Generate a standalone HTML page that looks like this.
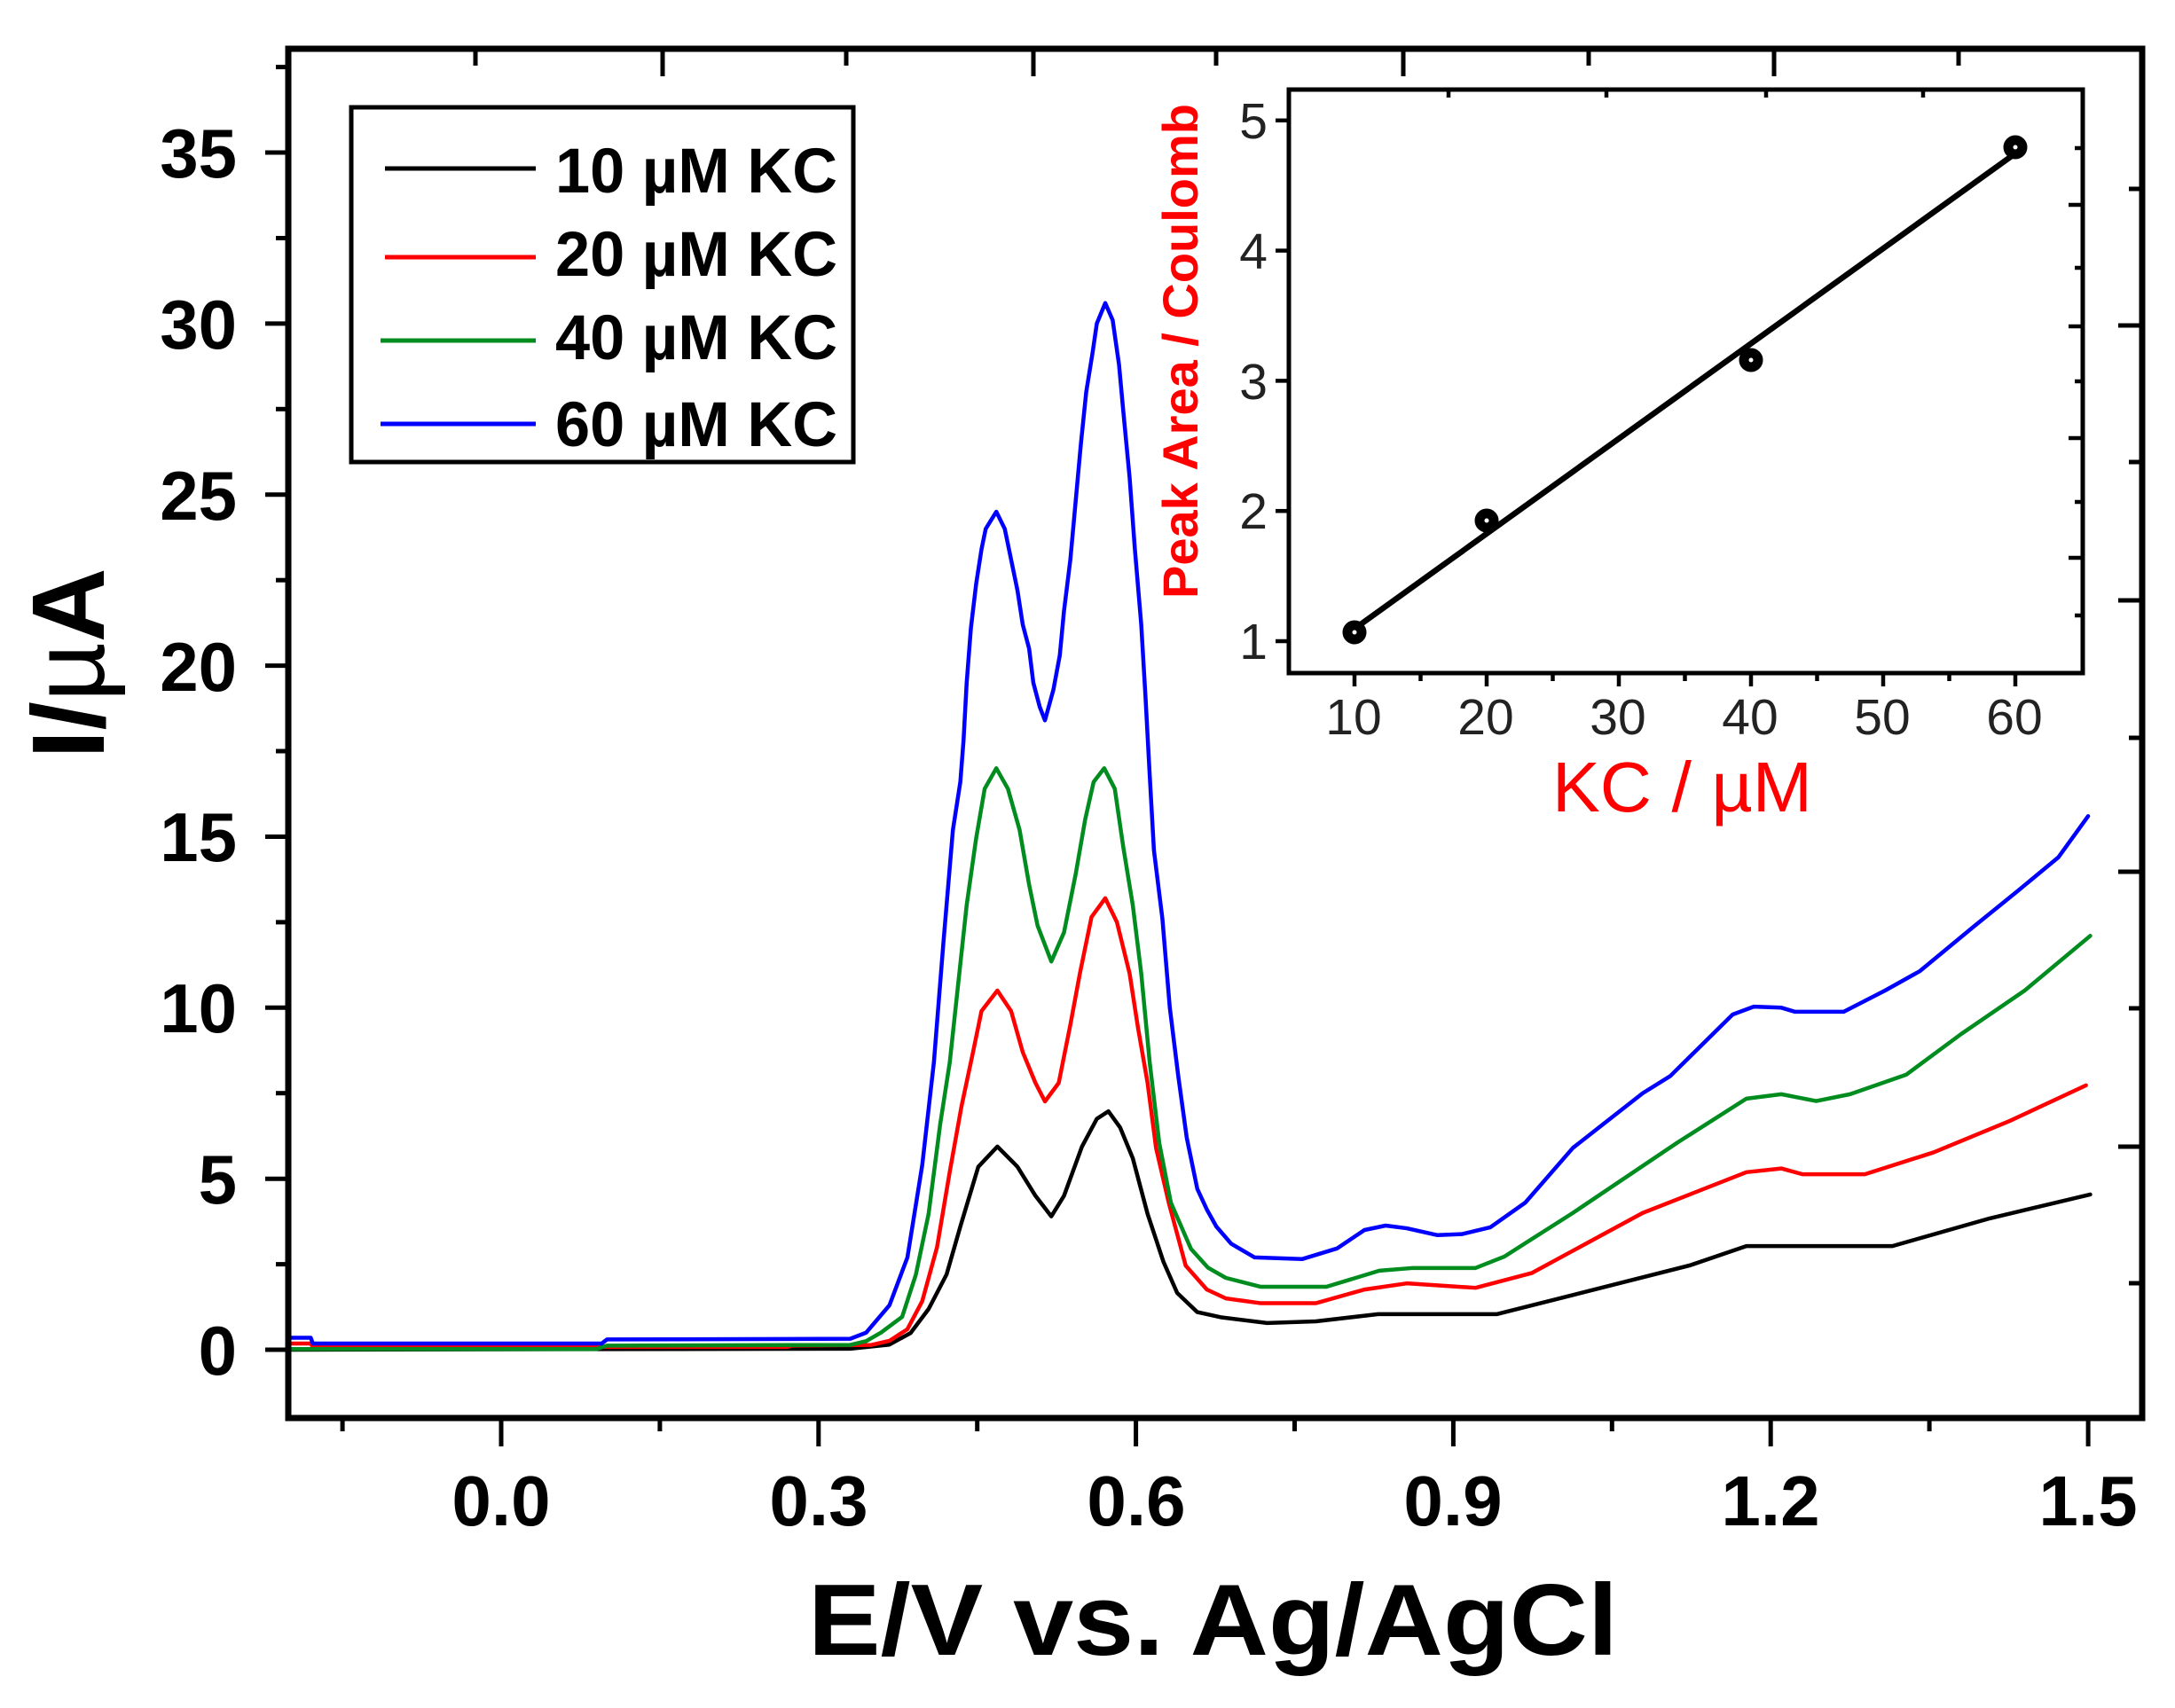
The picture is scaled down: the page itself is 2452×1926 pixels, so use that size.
<!DOCTYPE html>
<html>
<head>
<meta charset="utf-8">
<style>
html,body{margin:0;padding:0;background:#fff;}
svg{display:block;}
text{font-family:"Liberation Sans",Arial,sans-serif;}
</style>
</head>
<body>
<svg width="2452" height="1926" viewBox="0 0 2452 1926" xmlns="http://www.w3.org/2000/svg">
<rect x="0" y="0" width="2452" height="1926" fill="#fff"/>

<!-- curves in data coordinates -->
<g transform="matrix(1192.7,0,0,-38.57,565,1522)" fill="none" stroke-linejoin="round" stroke-linecap="round">
<polyline vector-effect="non-scaling-stroke" stroke="#000" stroke-width="4.5" points="-0.2,0.0 0.33,0.03 0.367,0.15 0.387,0.49 0.404,1.19 0.421,2.2 0.434,3.6 0.451,5.35 0.469,5.94 0.488,5.35 0.505,4.5 0.52,3.9 0.532,4.5 0.549,5.94 0.563,6.75 0.574,6.97 0.585,6.5 0.597,5.6 0.611,3.97 0.626,2.57 0.639,1.66 0.658,1.1 0.68,0.95 0.724,0.78 0.77,0.83 0.829,1.04 0.941,1.04 1.013,1.6 1.124,2.47 1.177,3.03 1.315,3.03 1.407,3.84 1.502,4.54"/>
<polyline vector-effect="non-scaling-stroke" stroke="#ff0000" stroke-width="4.5" points="-0.2,0.18 -0.18,0.18 -0.178,0.08 0.27,0.08 0.275,0.12 0.35,0.14 0.367,0.26 0.384,0.6 0.398,1.42 0.412,3.0 0.424,5.2 0.435,7.1 0.446,8.7 0.454,9.9 0.469,10.5 0.482,9.9 0.493,8.7 0.505,7.8 0.514,7.26 0.527,7.8 0.538,9.5 0.547,11.0 0.558,12.65 0.571,13.2 0.582,12.5 0.594,11.0 0.602,9.4 0.611,7.8 0.619,5.9 0.631,4.3 0.647,2.46 0.667,1.76 0.685,1.5 0.718,1.36 0.77,1.36 0.816,1.76 0.856,1.94 0.921,1.81 0.974,2.24 1.079,4.0 1.177,5.19 1.21,5.3 1.23,5.13 1.289,5.13 1.354,5.77 1.426,6.69 1.498,7.73"/>
<polyline vector-effect="non-scaling-stroke" stroke="#008c1e" stroke-width="4.5" points="-0.2,0.02 0.09,0.02 0.1,0.12 0.33,0.14 0.345,0.25 0.359,0.5 0.379,0.96 0.392,2.2 0.404,3.97 0.415,6.6 0.424,8.4 0.432,10.7 0.44,13.0 0.449,14.96 0.457,16.4 0.468,17.0 0.479,16.4 0.49,15.2 0.499,13.6 0.507,12.4 0.52,11.35 0.532,12.2 0.543,13.9 0.552,15.5 0.56,16.6 0.57,17.0 0.58,16.4 0.588,14.7 0.597,13.0 0.605,11.0 0.613,8.4 0.622,6.05 0.633,4.3 0.652,2.95 0.668,2.4 0.685,2.1 0.718,1.84 0.78,1.84 0.83,2.31 0.862,2.39 0.921,2.39 0.948,2.72 1.013,4.0 1.112,6.06 1.177,7.34 1.21,7.47 1.243,7.27 1.275,7.47 1.328,8.04 1.38,9.23 1.44,10.5 1.502,12.1"/>
<polyline vector-effect="non-scaling-stroke" stroke="#0000ff" stroke-width="4.5" points="-0.2,0.35 -0.18,0.35 -0.178,0.18 0.095,0.18 0.1,0.3 0.33,0.32 0.345,0.5 0.367,1.3 0.384,2.7 0.398,5.4 0.409,8.4 0.418,11.9 0.427,15.2 0.434,16.6 0.437,17.8 0.44,19.5 0.444,21.1 0.449,22.4 0.454,23.4 0.458,24.0 0.468,24.5 0.476,24.0 0.482,23.1 0.488,22.2 0.493,21.2 0.499,20.5 0.503,19.5 0.509,18.8 0.514,18.4 0.522,19.3 0.528,20.3 0.532,21.6 0.538,23.1 0.543,24.8 0.548,26.5 0.553,28.0 0.559,29.15 0.563,30.0 0.571,30.6 0.578,30.1 0.584,28.8 0.588,27.45 0.594,25.5 0.599,23.4 0.605,21.2 0.609,19.1 0.613,16.8 0.617,14.6 0.625,12.6 0.632,10.0 0.64,8.0 0.648,6.2 0.658,4.7 0.667,4.1 0.676,3.6 0.69,3.1 0.712,2.7 0.757,2.65 0.79,2.96 0.816,3.5 0.836,3.63 0.856,3.55 0.885,3.35 0.908,3.38 0.935,3.58 0.968,4.3 1.013,5.9 1.079,7.5 1.105,8.0 1.164,9.8 1.184,10.03 1.21,10.0 1.223,9.88 1.269,9.88 1.308,10.5 1.341,11.07 1.393,12.4 1.433,13.4 1.472,14.4 1.5,15.6"/>
</g>

<!-- main frame -->
<rect x="325" y="55" width="2090" height="1544" fill="none" stroke="#000" stroke-width="7"/>

<!-- left ticks -->
<g stroke="#000" stroke-width="5">
<line x1="299" y1="1522" x2="325" y2="1522"/>
<line x1="299" y1="1329.2" x2="325" y2="1329.2"/>
<line x1="299" y1="1136.3" x2="325" y2="1136.3"/>
<line x1="299" y1="943.5" x2="325" y2="943.5"/>
<line x1="299" y1="750.6" x2="325" y2="750.6"/>
<line x1="299" y1="557.8" x2="325" y2="557.8"/>
<line x1="299" y1="364.9" x2="325" y2="364.9"/>
<line x1="299" y1="172" x2="325" y2="172"/>
<line x1="311" y1="1425.6" x2="325" y2="1425.6"/>
<line x1="311" y1="1232.7" x2="325" y2="1232.7"/>
<line x1="311" y1="1039.9" x2="325" y2="1039.9"/>
<line x1="311" y1="847" x2="325" y2="847"/>
<line x1="311" y1="654.2" x2="325" y2="654.2"/>
<line x1="311" y1="461.3" x2="325" y2="461.3"/>
<line x1="311" y1="268.5" x2="325" y2="268.5"/>
<line x1="311" y1="75.6" x2="325" y2="75.6"/>
<!-- bottom ticks -->
<line x1="565" y1="1599" x2="565" y2="1631"/>
<line x1="922.8" y1="1599" x2="922.8" y2="1631"/>
<line x1="1280.6" y1="1599" x2="1280.6" y2="1631"/>
<line x1="1638.4" y1="1599" x2="1638.4" y2="1631"/>
<line x1="1996.2" y1="1599" x2="1996.2" y2="1631"/>
<line x1="2354.1" y1="1599" x2="2354.1" y2="1631"/>
<line x1="386.1" y1="1599" x2="386.1" y2="1614"/>
<line x1="743.9" y1="1599" x2="743.9" y2="1614"/>
<line x1="1101.7" y1="1599" x2="1101.7" y2="1614"/>
<line x1="1459.5" y1="1599" x2="1459.5" y2="1614"/>
<line x1="1817.3" y1="1599" x2="1817.3" y2="1614"/>
<line x1="2175.1" y1="1599" x2="2175.1" y2="1614"/>
<!-- top ticks (inward) -->
<line x1="536" y1="55" x2="536" y2="74"/>
<line x1="747" y1="55" x2="747" y2="86"/>
<line x1="954" y1="55" x2="954" y2="74"/>
<line x1="1165" y1="55" x2="1165" y2="86"/>
<line x1="1371" y1="55" x2="1371" y2="74"/>
<line x1="1582" y1="55" x2="1582" y2="86"/>
<line x1="1791" y1="55" x2="1791" y2="74"/>
<line x1="2000" y1="55" x2="2000" y2="86"/>
<line x1="2208" y1="55" x2="2208" y2="74"/>
<!-- right ticks (inward) -->
<line x1="2400" y1="213" x2="2415" y2="213"/>
<line x1="2388" y1="367" x2="2415" y2="367"/>
<line x1="2400" y1="521" x2="2415" y2="521"/>
<line x1="2388" y1="677" x2="2415" y2="677"/>
<line x1="2400" y1="832" x2="2415" y2="832"/>
<line x1="2388" y1="983" x2="2415" y2="983"/>
<line x1="2400" y1="1137" x2="2415" y2="1137"/>
<line x1="2388" y1="1293" x2="2415" y2="1293"/>
<line x1="2400" y1="1447" x2="2415" y2="1447"/>
</g>

<!-- y tick labels -->
<g font-size="78" font-weight="bold" text-anchor="end" fill="#000">
<text x="267" y="1550">0</text>
<text x="267" y="1357">5</text>
<text x="267" y="1164">10</text>
<text x="267" y="971">15</text>
<text x="267" y="779">20</text>
<text x="267" y="586">25</text>
<text x="267" y="393">30</text>
<text x="267" y="200">35</text>
</g>
<!-- x tick labels -->
<g font-size="80" font-weight="bold" text-anchor="middle" fill="#000">
<text x="565" y="1720">0.0</text>
<text x="923" y="1720">0.3</text>
<text x="1281" y="1720">0.6</text>
<text x="1638" y="1720">0.9</text>
<text x="1996" y="1720">1.2</text>
<text x="2354" y="1720">1.5</text>
</g>

<!-- axis titles -->
<text x="911" y="1866" font-size="114" font-weight="bold" textLength="913" lengthAdjust="spacingAndGlyphs" fill="#000">E/V vs. Ag/AgCl</text>
<text transform="translate(117,748) rotate(-90)" text-anchor="middle" font-size="116" fill="#000"><tspan font-weight="bold">I/</tspan><tspan font-weight="normal">µ</tspan><tspan font-weight="bold">A</tspan></text>

<!-- legend -->
<rect x="396" y="121" width="566" height="400" fill="#fff" stroke="#000" stroke-width="5"/>
<g stroke-width="5">
<line x1="434" y1="190" x2="604" y2="190" stroke="#000"/>
<line x1="434" y1="290" x2="604" y2="290" stroke="#ff0000"/>
<line x1="429" y1="384" x2="604" y2="384" stroke="#008c1e"/>
<line x1="429" y1="478" x2="604" y2="478" stroke="#0000ff"/>
</g>
<g font-size="71" font-weight="bold" fill="#000">
<text x="626" y="217" textLength="318" lengthAdjust="spacingAndGlyphs">10 µM KC</text>
<text x="626" y="311" textLength="318" lengthAdjust="spacingAndGlyphs">20 µM KC</text>
<text x="626" y="405" textLength="318" lengthAdjust="spacingAndGlyphs">40 µM KC</text>
<text x="626" y="503" textLength="318" lengthAdjust="spacingAndGlyphs">60 µM KC</text>
</g>

<!-- inset -->
<rect x="1453" y="101" width="895" height="658" fill="#fff" stroke="#000" stroke-width="5"/>
<g stroke="#000" stroke-width="4.5">
<!-- left ticks -->
<line x1="1438" y1="723" x2="1453" y2="723"/>
<line x1="1438" y1="576.2" x2="1453" y2="576.2"/>
<line x1="1438" y1="429.4" x2="1453" y2="429.4"/>
<line x1="1438" y1="282.6" x2="1453" y2="282.6"/>
<line x1="1438" y1="135.8" x2="1453" y2="135.8"/>
<!-- bottom ticks -->
<line x1="1527" y1="759" x2="1527" y2="774"/>
<line x1="1676" y1="759" x2="1676" y2="774"/>
<line x1="1825" y1="759" x2="1825" y2="774"/>
<line x1="1974" y1="759" x2="1974" y2="774"/>
<line x1="2123" y1="759" x2="2123" y2="774"/>
<line x1="2272" y1="759" x2="2272" y2="774"/>
<line x1="1601.5" y1="759" x2="1601.5" y2="768"/>
<line x1="1750.5" y1="759" x2="1750.5" y2="768"/>
<line x1="1899.5" y1="759" x2="1899.5" y2="768"/>
<line x1="2048.5" y1="759" x2="2048.5" y2="768"/>
<line x1="2197.5" y1="759" x2="2197.5" y2="768"/>
<!-- top ticks inward -->
<line x1="1633" y1="101" x2="1633" y2="110"/>
<line x1="1811" y1="101" x2="1811" y2="110"/>
<line x1="1991" y1="101" x2="1991" y2="110"/>
<line x1="2168" y1="101" x2="2168" y2="110"/>
<!-- right ticks inward -->
<line x1="2339" y1="167" x2="2348" y2="167"/>
<line x1="2332" y1="231" x2="2348" y2="231"/>
<line x1="2339" y1="302" x2="2348" y2="302"/>
<line x1="2332" y1="368" x2="2348" y2="368"/>
<line x1="2339" y1="430" x2="2348" y2="430"/>
<line x1="2332" y1="494" x2="2348" y2="494"/>
<line x1="2339" y1="566" x2="2348" y2="566"/>
<line x1="2332" y1="629" x2="2348" y2="629"/>
<line x1="2339" y1="694" x2="2348" y2="694"/>
</g>
<!-- fit line & points -->
<line x1="1527" y1="709" x2="2272" y2="173" stroke="#000" stroke-width="6.5"/>
<g fill="#fff" stroke="#000" stroke-width="11">
<circle cx="1527" cy="713" r="8"/>
<circle cx="1676" cy="587" r="8"/>
<circle cx="1974" cy="406" r="8"/>
<circle cx="2272" cy="166" r="8"/>
</g>
<!-- inset labels -->
<g font-size="57" fill="#222" text-anchor="end">
<text x="1429" y="743">1</text>
<text x="1429" y="596">2</text>
<text x="1429" y="450">3</text>
<text x="1429" y="303">4</text>
<text x="1429" y="156">5</text>
</g>
<g font-size="57" fill="#222" text-anchor="middle">
<text x="1526" y="828">10</text>
<text x="1675" y="828">20</text>
<text x="1824" y="828">30</text>
<text x="1973" y="828">40</text>
<text x="2122" y="828">50</text>
<text x="2271" y="828">60</text>
</g>
<text transform="translate(1350,396) rotate(-90)" text-anchor="middle" font-size="56" font-weight="bold" fill="#ff0000" textLength="558" lengthAdjust="spacingAndGlyphs">Peak Area / Coulomb</text>
<text x="1750" y="915" font-size="80" fill="#ff0000" textLength="293" lengthAdjust="spacingAndGlyphs">KC / µM</text>
</svg>
</body>
</html>
